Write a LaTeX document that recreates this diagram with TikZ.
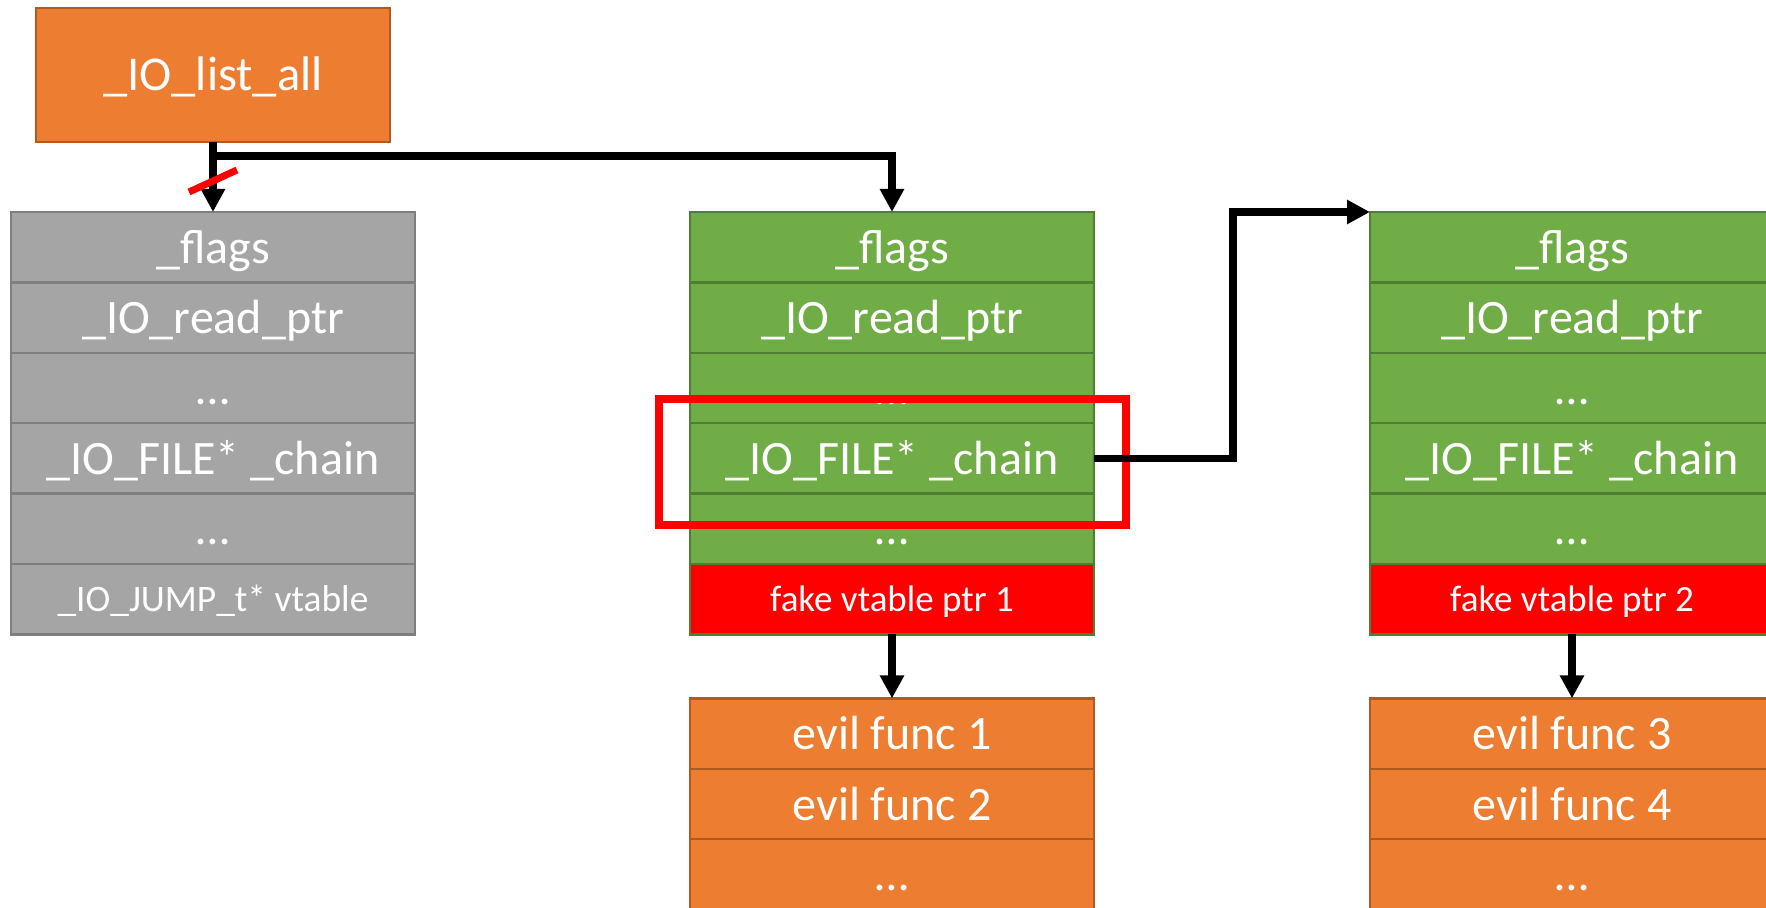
\documentclass[tikz,border=0pt]{standalone}
\usepackage{fontspec}
\setmainfont{Carlito}
\usepackage{tikz}
\usetikzlibrary{arrows.meta,positioning}
\definecolor{listorange}{HTML}{ED7D31}
\definecolor{orangeline}{HTML}{AE5A21}
\definecolor{filegreen}{HTML}{70AD47}
\definecolor{greenline}{HTML}{507E32}
\definecolor{filegray}{HTML}{A5A5A5}
\definecolor{grayline}{HTML}{7F7F7F}
\definecolor{fakered}{RGB}{255, 0, 0}

\begin{document}
\begin{tikzpicture}[
    x=0.5pt, y=-0.5pt,
    every node/.style={align=center, text=white, inner sep=0pt, outer sep=0pt},
    field/.style={rectangle, minimum width=202pt, minimum height=35.2pt, line width=1.25pt, text height=21pt, text depth=4.8pt, font=\fontsize{24}{28}\selectfont},
    smallfield/.style={text height=16pt, text depth=3.4pt},
    oldfield/.style={field, draw=grayline, fill=filegray},
    newfield/.style={field, draw=greenline, fill=filegreen},
    fakefield/.style={field, smallfield, draw=greenline, fill=fakered, font=\fontsize{18.5}{22}\selectfont},
    funcfield/.style={field, draw=orangeline, fill=listorange},
    head/.style={rectangle, minimum width=177pt, minimum height=67pt, line width=1.25pt, text height=21pt, text depth=5pt, draw=orangeline, fill=listorange, font=\fontsize{24.3}{28}\selectfont},
    arrow/.style={line width=3.7pt, -{Triangle[width=11.5pt,length=11.5pt]}}
]
\useasboundingbox (0,0) rectangle (1766,908);
\clip (0,0) rectangle (1766,908);

% List head
\node[head, anchor=north] (listall) at (213,8) {\_IO\_list\_all};

% Original FILE
\node[oldfield, anchor=north] (oldflags) at (213,212) {\_flags};
\node[oldfield, below=0pt of oldflags] (oldread) {\_IO\_read\_ptr};
\node[oldfield, below=0pt of oldread] (oldgap1) {…};
\node[oldfield, below=0pt of oldgap1] (oldchain) {\_IO\_FILE* \_chain};
\node[oldfield, below=0pt of oldchain] (oldgap2) {…};
\node[oldfield, smallfield, below=0pt of oldgap2, font=\fontsize{18.7}{22}\selectfont] (oldvtable) {\_IO\_JUMP\_t* vtable};

% Fake FILE 1
\node[newfield, anchor=north] (newflags) at (892,212) {\_flags};
\node[newfield, below=0pt of newflags] (newread) {\_IO\_read\_ptr};
\node[newfield, below=0pt of newread] (newgap1) {…};
\node[newfield, below=0pt of newgap1] (newchain) {\_IO\_FILE* \_chain};
\node[newfield, below=0pt of newchain] (newgap2) {…};
\node[fakefield, below=0pt of newgap2] (fake1) {fake vtable ptr 1};

% Fake FILE 2
\node[newfield, anchor=north] (nextflags) at (1572,212) {\_flags};
\node[newfield, below=0pt of nextflags] (nextread) {\_IO\_read\_ptr};
\node[newfield, below=0pt of nextread] (nextgap1) {…};
\node[newfield, below=0pt of nextgap1] (nextchain) {\_IO\_FILE* \_chain};
\node[newfield, below=0pt of nextchain] (nextgap2) {…};
\node[fakefield, below=0pt of nextgap2] (fake2) {fake vtable ptr 2};

% Fake vtables
\node[funcfield, below=32pt of fake1] (evil1) {evil func 1};
\node[funcfield, below=0pt of evil1] (evil2) {evil func 2};
\node[funcfield, below=0pt of evil2] (evilgap1) {…};
\node[funcfield, below=32pt of fake2] (evil3) {evil func 3};
\node[funcfield, below=0pt of evil3] (evil4) {evil func 4};
\node[funcfield, below=0pt of evil4] (evilgap2) {…};

% Highlight
\draw[fakered, line width=4pt] (659,399) rectangle (1126,525);

% Pointers
\coordinate (cut) at (213,181);
\coordinate (bend) at (1233,212);
\draw[arrow] (listall.south) -- (oldflags.north);
\draw[arrow] (listall.south) -- ++(0,14) -| (newflags.north);
\draw[arrow] (newchain.east) -| (bend) -- (nextflags.north west);
\draw[arrow] (fake1.south) -- (evil1.north);
\draw[arrow] (fake2.south) -- (evil3.north);

% Broken link
\draw[fakered, line width=3.5pt] ([shift={(-24,11)}]cut) -- ([shift={(24,-11)}]cut);

\end{tikzpicture}
\end{document}
